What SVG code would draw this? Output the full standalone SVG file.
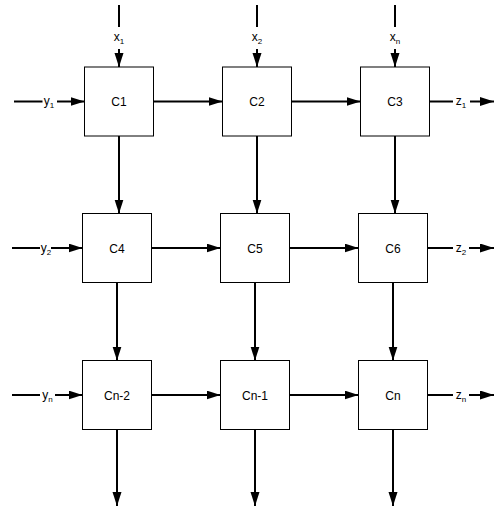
<svg xmlns="http://www.w3.org/2000/svg" width="494" height="508" viewBox="0 0 494 508">
<defs>
<marker id="ah" markerUnits="userSpaceOnUse" markerWidth="14" markerHeight="10" refX="14" refY="4.5" orient="auto"><path d="M0,0 L14,4.5 L0,9 z" fill="#000"/></marker>
<style>
.box{fill:#fff;stroke:#000;stroke-width:1}
.lbl{font-family:"Liberation Sans",Arial,sans-serif;font-size:12px;fill:#000;text-anchor:middle}
.io{font-family:"Liberation Sans",Arial,sans-serif;font-size:12px;fill:#000;text-anchor:middle}
.sub{font-size:8px}
.ln{stroke:#000;stroke-width:2;fill:none}
.ar{stroke:#000;stroke-width:2;fill:none;marker-end:url(#ah)}
</style>
</defs>
<rect width="494" height="508" fill="#fff"/>
<g id="connectors">
<line class="ln" x1="119" y1="5" x2="119" y2="27"/><line class="ar" x1="119" y1="49" x2="119" y2="67"/>
<line class="ln" x1="257" y1="5" x2="257" y2="27"/><line class="ar" x1="257" y1="49" x2="257" y2="67"/>
<line class="ln" x1="395" y1="5" x2="395" y2="27"/><line class="ar" x1="395" y1="49" x2="395" y2="67"/>
<line class="ar" x1="119" y1="136" x2="119" y2="213.5"/>
<line class="ar" x1="257" y1="136" x2="257" y2="213.5"/>
<line class="ar" x1="395" y1="136" x2="395" y2="213.5"/>
<line class="ar" x1="117" y1="282.5" x2="117" y2="360.5"/>
<line class="ar" x1="255" y1="282.5" x2="255" y2="360.5"/>
<line class="ar" x1="393" y1="282.5" x2="393" y2="360.5"/>
<line class="ar" x1="117" y1="429.5" x2="117" y2="506"/>
<line class="ar" x1="255" y1="429.5" x2="255" y2="506"/>
<line class="ar" x1="393" y1="429.5" x2="393" y2="506"/>
<line class="ln" x1="14" y1="101.5" x2="42.5" y2="101.5"/><line class="ar" x1="57" y1="101.5" x2="84.5" y2="101.5"/>
<line class="ar" x1="153.5" y1="101.5" x2="222.5" y2="101.5"/>
<line class="ar" x1="291.5" y1="101.5" x2="360.5" y2="101.5"/>
<line class="ln" x1="429.5" y1="101.5" x2="453" y2="101.5"/><line class="ar" x1="470" y1="101.5" x2="494" y2="101.5"/>
<line class="ln" x1="12" y1="248" x2="40" y2="248"/><line class="ar" x1="51" y1="248" x2="82.5" y2="248"/>
<line class="ar" x1="151.5" y1="248" x2="220.5" y2="248"/>
<line class="ar" x1="289.5" y1="248" x2="358.5" y2="248"/>
<line class="ln" x1="427.5" y1="248" x2="453" y2="248"/><line class="ar" x1="469" y1="248" x2="494" y2="248"/>
<line class="ln" x1="12" y1="395" x2="40" y2="395"/><line class="ar" x1="55" y1="395" x2="82.5" y2="395"/>
<line class="ar" x1="151.5" y1="395" x2="220.5" y2="395"/>
<line class="ar" x1="289.5" y1="395" x2="358.5" y2="395"/>
<line class="ln" x1="427.5" y1="395" x2="453" y2="395"/><line class="ar" x1="469" y1="395" x2="494" y2="395"/>
</g>
<g id="labels">
<text class="io" x="119" y="41">x<tspan class="sub" dy="3">1</tspan></text>
<text class="io" x="257" y="41">x<tspan class="sub" dy="3">2</tspan></text>
<text class="io" x="395" y="41">x<tspan class="sub" dy="3">n</tspan></text>
<text class="io" x="49" y="105">y<tspan class="sub" dy="3">1</tspan></text>
<text class="io" x="46" y="251.5">y<tspan class="sub" dy="3">2</tspan></text>
<text class="io" x="47.5" y="398.5">y<tspan class="sub" dy="3">n</tspan></text>
<text class="io" x="461" y="105">z<tspan class="sub" dy="3">1</tspan></text>
<text class="io" x="461" y="251.5">z<tspan class="sub" dy="3">2</tspan></text>
<text class="io" x="461" y="398.5">z<tspan class="sub" dy="3">n</tspan></text>
</g>
<g id="C1"><rect class="box" x="84.5" y="67" width="69" height="69"/><text class="lbl" x="119" y="106">C1</text></g>
<g id="C2"><rect class="box" x="222.5" y="67" width="69" height="69"/><text class="lbl" x="257" y="106">C2</text></g>
<g id="C3"><rect class="box" x="360.5" y="67" width="69" height="69"/><text class="lbl" x="395" y="106">C3</text></g>
<g id="C4"><rect class="box" x="82.5" y="213.5" width="69" height="69"/><text class="lbl" x="117" y="252.5">C4</text></g>
<g id="C5"><rect class="box" x="220.5" y="213.5" width="69" height="69"/><text class="lbl" x="255" y="252.5">C5</text></g>
<g id="C6"><rect class="box" x="358.5" y="213.5" width="69" height="69"/><text class="lbl" x="393" y="252.5">C6</text></g>
<g id="Cn-2"><rect class="box" x="82.5" y="360.5" width="69" height="69"/><text class="lbl" x="117" y="399.5">Cn-2</text></g>
<g id="Cn-1"><rect class="box" x="220.5" y="360.5" width="69" height="69"/><text class="lbl" x="255" y="399.5">Cn-1</text></g>
<g id="Cn"><rect class="box" x="358.5" y="360.5" width="69" height="69"/><text class="lbl" x="393" y="399.5">Cn</text></g>
</svg>
